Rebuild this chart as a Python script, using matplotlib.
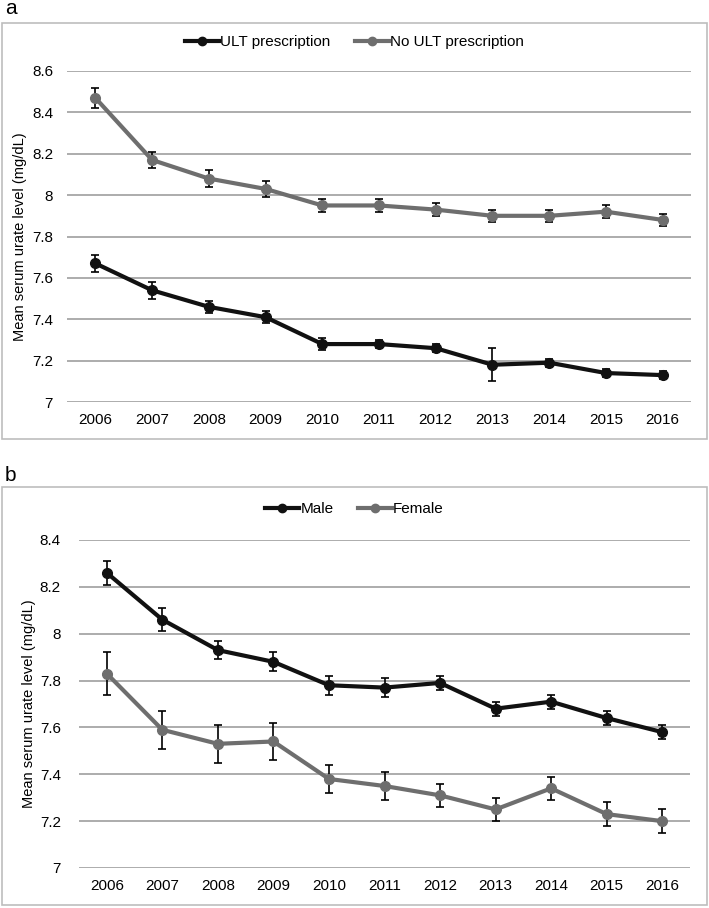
import numpy as np
import matplotlib
matplotlib.use('Agg')
from matplotlib import pyplot as plt
from matplotlib.patches import Rectangle
from matplotlib.lines import Line2D

plt.rcParams['font.family'] = ['Liberation Sans', 'DejaVu Sans']

years = ['2006', '2007', '2008', '2009', '2010', '2011', '2012', '2013', '2014', '2015', '2016']

ult = [7.67, 7.54, 7.46, 7.41, 7.28, 7.28, 7.26, 7.18, 7.19, 7.14, 7.13]
ult_err = [0.04, 0.04, 0.03, 0.03, 0.03, 0.02, 0.02, 0.08, 0.02, 0.02, 0.02]
no_ult = [8.47, 8.17, 8.08, 8.03, 7.95, 7.95, 7.93, 7.90, 7.90, 7.92, 7.88]
no_ult_err = [0.05, 0.04, 0.04, 0.04, 0.03, 0.03, 0.03, 0.03, 0.03, 0.03, 0.03]

male = [8.26, 8.06, 7.93, 7.88, 7.78, 7.77, 7.79, 7.68, 7.71, 7.64, 7.58]
male_err = [0.05, 0.05, 0.04, 0.04, 0.04, 0.04, 0.03, 0.03, 0.03, 0.03, 0.03]
female = [7.83, 7.59, 7.53, 7.54, 7.38, 7.35, 7.31, 7.25, 7.34, 7.23, 7.20]
female_err = [0.09, 0.08, 0.08, 0.08, 0.06, 0.06, 0.05, 0.05, 0.05, 0.05, 0.05]

yticks_a = [7, 7.2, 7.4, 7.6, 7.8, 8, 8.2, 8.4, 8.6]
yticks_b = [7, 7.2, 7.4, 7.6, 7.8, 8, 8.2, 8.4]

dark = '#111111'
gray = '#6e6e6e'

W, H = 709, 908
fig = plt.figure(figsize=(W / 100, H / 100), dpi=100)


def px_box(x0, y0, x1, y1):
    # pixel box (top-left origin) -> figure fraction [left, bottom, width, height]
    return [x0 / W, 1 - y1 / H, (x1 - x0) / W, (y1 - y0) / H]


# panel frames
for y0, y1 in [(23, 439), (487, 905)]:
    l, b, w, h = px_box(2, y0, 707, y1)
    fig.patches.append(Rectangle((l, b), w, h, transform=fig.transFigure,
                                 fill=False, edgecolor='#bdbdbd', linewidth=1.2))
fig.text(5 / W, 1 - 9 / H, 'a', fontsize=15, va='center', ha='left')
fig.text(5 / W, 1 - 476 / H, 'b', fontsize=15, va='center', ha='left')


def draw_panel(ax, series, labels, colors, yticks, legend_y, label_x, ypad):
    x = np.arange(len(years))
    handles = []
    for (vals, errs), lab, col in zip(series, labels, colors):
        ax.errorbar(x, vals, yerr=errs, color=col, ecolor='black', elinewidth=1.2,
                    capsize=3, capthick=1.2, linewidth=3, marker='o', markersize=7,
                    zorder=3)
        handles.append(Line2D([], [], color=col, linewidth=3, marker='o', markersize=6, label=lab))
    ax.set_xlim(-0.5, len(years) - 0.5)
    ax.set_ylim(yticks[0], yticks[-1])
    ax.set_xticks(x)
    ax.set_xticklabels(years)
    ax.set_yticks(yticks)
    ax.set_yticklabels([f'{v:g}' for v in yticks])
    ax.grid(axis='y', color='#a6a6a6', linewidth=1.3)
    ax.set_axisbelow(True)
    for s in ax.spines.values():
        s.set_visible(False)
    ax.tick_params(length=0, labelsize=11, pad=8)
    ax.tick_params(axis='y', pad=ypad)
    ax.set_ylabel('Mean serum urate level (mg/dL)', fontsize=10.5)
    ax.yaxis.set_label_coords(label_x, 0.5)
    # legend centred on the panel frame, not the plot area
    fig.legend(handles=handles, loc='center', bbox_to_anchor=(354.5 / W, 1 - legend_y / H), ncol=2,
               frameon=False, fontsize=11, handlelength=2.2, handletextpad=0.1,
               columnspacing=1.6)


ax1 = fig.add_axes(px_box(67, 71, 691, 402))
draw_panel(ax1, [(ult, ult_err), (no_ult, no_ult_err)],
           ['ULT prescription', 'No ULT prescription'], [dark, gray], yticks_a, 42, -0.064, 10)

ax2 = fig.add_axes(px_box(79, 540, 690, 868))
draw_panel(ax2, [(male, male_err), (female, female_err)],
           ['Male', 'Female'], [dark, gray], yticks_b, 509, -0.070, 13)

fig.savefig('out.png', dpi=100)
